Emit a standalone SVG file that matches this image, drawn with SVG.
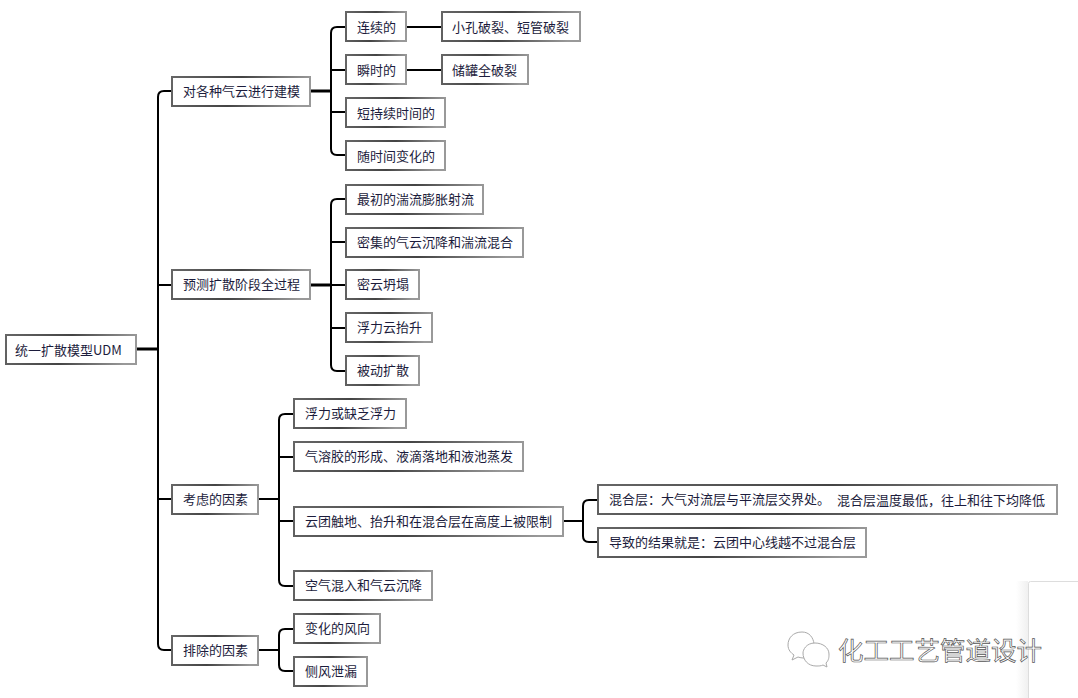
<svg xmlns="http://www.w3.org/2000/svg" width="1078" height="698" viewBox="0 0 1078 698">
<style>
.b{fill:#fff;stroke:url(#edge);stroke-width:2}
text{font-family:"Noto Sans CJK SC","Liberation Sans",sans-serif}
.t{font-size:13px;fill:#1c1c3c;dominant-baseline:central}
.c{fill:none;stroke:#000;stroke-width:2}
.w{font-size:25.5px;fill:#fff;stroke:#555;stroke-width:.7}
.i{fill:#fff;stroke:#aaa;stroke-width:1}
</style>
<defs>
<linearGradient id="edge" x1="0" y1="0" x2="1" y2="0.1"><stop offset="0" stop-color="#666"/><stop offset=".5" stop-color="#444"/><stop offset="1" stop-color="#999"/></linearGradient>
<linearGradient id="sh" x1="0" y1="0" x2="1" y2="0"><stop offset="0" stop-color="#fff"/><stop offset="1" stop-color="#f0f0f0"/></linearGradient>
</defs>
<rect width="1078" height="698" fill="#fff"/>
<g id="panel"><rect x="1016" y="581" width="12" height="117" fill="url(#sh)"/><rect x="1028.500" y="581.500" width="52" height="120" rx="2" fill="#fff" stroke="#ddd"/></g>
<g id="connectors">
<path class="c" style="stroke-width:3" d="M137 349H157"/>
<path class="c" d="M172 91H164Q158 91 158 97V644Q158 650 164 650H172"/>
<path class="c" d="M158 285H172M158 499H172"/>
<path class="c" style="stroke-width:3" d="M311 91H331"/>
<path class="c" d="M346 27H337Q331 27 331 33V149Q331 155 337 155H346M331 70H346M331 112H346"/>
<path class="c" d="M407 27H442M407 70H442"/>
<path class="c" style="stroke-width:3" d="M311 285H331"/>
<path class="c" d="M346 199H337Q331 199 331 205V365Q331 371 337 371H346M331 242H346M331 285H346M331 328H346"/>
<path class="c" d="M259 499H279"/>
<path class="c" d="M294 414H285Q279 414 279 420V580Q279 586 285 586H294M279 457H294M279 521H294"/>
<path class="c" d="M564 521H583"/>
<path class="c" d="M598 500H589Q583 500 583 506V536Q583 542 589 542H598"/>
<path class="c" d="M259 650H279"/>
<path class="c" d="M294 629H285Q279 629 279 635V665Q279 671 285 671H294"/>
</g>
<g id="n0"><rect class="b" x="6" y="335" width="130" height="29"/><text class="t" x="15" y="349">统一扩散模型UDM</text></g>
<g id="n1"><rect class="b" x="172" y="77" width="138" height="29"/><text class="t" x="183" y="90.500">对各种气云进行建模</text></g>
<g id="n2"><rect class="b" x="172" y="270" width="138" height="29"/><text class="t" x="183" y="283.500">预测扩散阶段全过程</text></g>
<g id="n3"><rect class="b" x="172" y="485" width="86" height="29"/><text class="t" x="183" y="498.500">考虑的因素</text></g>
<g id="n4"><rect class="b" x="172" y="636" width="86" height="29"/><text class="t" x="183" y="649.500">排除的因素</text></g>
<g id="n5"><rect class="b" x="346" y="12" width="60" height="29"/><text class="t" x="357" y="26.500">连续的</text></g>
<g id="n6"><rect class="b" x="442" y="12" width="138" height="29"/><text class="t" x="452" y="26.500">小孔破裂、短管破裂</text></g>
<g id="n7"><rect class="b" x="346" y="55" width="60" height="29"/><text class="t" x="357" y="69.500">瞬时的</text></g>
<g id="n8"><rect class="b" x="442" y="55" width="86" height="29"/><text class="t" x="452" y="69.500">储罐全破裂</text></g>
<g id="n9"><rect class="b" x="346" y="98" width="99" height="29"/><text class="t" x="357" y="112">短持续时间的</text></g>
<g id="n10"><rect class="b" x="346" y="141" width="99" height="29"/><text class="t" x="357" y="155">随时间变化的</text></g>
<g id="n11"><rect class="b" x="346" y="185" width="137" height="29"/><text class="t" x="357" y="198.500">最初的湍流膨胀射流</text></g>
<g id="n12"><rect class="b" x="346" y="228" width="177" height="29"/><text class="t" x="357" y="241.500">密集的气云沉降和湍流混合</text></g>
<g id="n13"><rect class="b" x="346" y="270" width="73" height="29"/><text class="t" x="357" y="283.500">密云坍塌</text></g>
<g id="n14"><rect class="b" x="346" y="313" width="86" height="29"/><text class="t" x="357" y="326.500">浮力云抬升</text></g>
<g id="n15"><rect class="b" x="346" y="356" width="73" height="29"/><text class="t" x="357" y="369.500">被动扩散</text></g>
<g id="n16"><rect class="b" x="294" y="399" width="112" height="29"/><text class="t" x="305" y="412.500">浮力或缺乏浮力</text></g>
<g id="n17"><rect class="b" x="294" y="442" width="229" height="29"/><text class="t" x="305" y="455.500">气溶胶的形成、液滴落地和液池蒸发</text></g>
<g id="n18"><rect class="b" x="294" y="507" width="269" height="29"/><text class="t" x="305" y="520.500">云团触地、抬升和在混合层在高度上被限制</text></g>
<g id="n19"><rect class="b" x="294" y="571" width="138" height="29"/><text class="t" x="305" y="584.500">空气混入和气云沉降</text></g>
<g id="n20"><rect class="b" x="294" y="614" width="86" height="29"/><text class="t" x="305" y="627.500">变化的风向</text></g>
<g id="n21"><rect class="b" x="294" y="657" width="73" height="29"/><text class="t" x="305" y="670.500">侧风泄漏</text></g>
<g id="n22"><rect class="b" x="598" y="485" width="459" height="29"/><text class="t" x="609" y="498.500">混合层：大气对流层与平流层交界处。 <tspan dx="4">混合层温度最低，往上和往下均降低</tspan></text></g>
<g id="n23"><rect class="b" x="598" y="528" width="268" height="29"/><text class="t" x="609" y="541.500">导致的结果就是：云团中心线越不过混合层</text></g>
<g id="watermark">
<path class="i" d="M802 632C793 632 788 638 788 645C788 650 791 653 794 655L792 660L798 657C801 658 803 658 806 658C817 658 818 632 802 632Z"/>
<path class="i" d="M815 643C806 643 803 650 803 653C803 660 808 666 816 666C819 666 821 666 823 665L827 667L826 663C829 660 829 657 829 654C829 648 823 643 815 643Z"/>
<text class="w" x="838" y="660">化工工艺管道设计</text>
</g>
</svg>
